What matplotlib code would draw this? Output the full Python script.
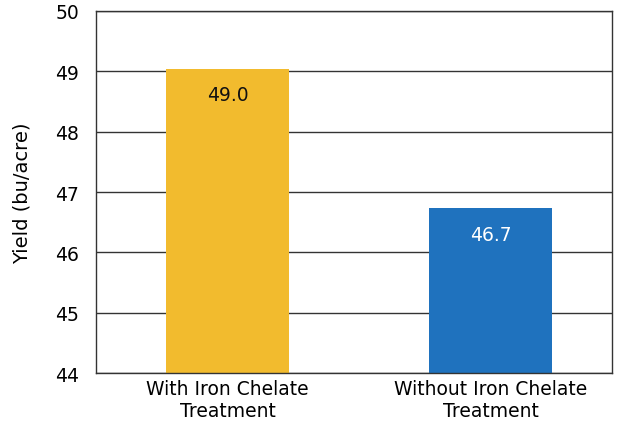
import matplotlib.pyplot as plt

categories = ['With Iron Chelate\nTreatment', 'Without Iron Chelate\nTreatment']
yields = [49.04, 46.73]
value_labels = ['49.0', '46.7']
bar_colors = ['#F2BB2E', '#1F72BE']
label_colors = ['#111111', 'white']

fig = plt.figure(figsize=(6.27, 4.27), dpi=100)
ax = fig.add_axes([0.153, 0.124, 0.823, 0.848])

x = [0.01, 1.03]
ax.set_axisbelow(True)
ax.grid(axis='y', color='#333333', linewidth=1)
ax.bar(x, yields, width=0.477, color=bar_colors, bottom=0)

for xi, v, lab, c in zip(x, yields, value_labels, label_colors):
    ax.text(xi, v - 0.43, lab, ha='center', va='center', fontsize=13.5, color=c)

ax.set_ylim(44, 50)
ax.set_xlim(-0.5, 1.5)
ax.set_yticks(range(44, 51))
ax.set_xticks(x)
ax.set_xticklabels(categories, fontsize=13.5, linespacing=1.2)
ax.tick_params(axis='y', labelsize=13.5, length=0, pad=12)
ax.tick_params(axis='x', length=0, pad=4)
ax.set_ylabel('Yield (bu/acre)', fontsize=14, labelpad=17)

for s in ax.spines.values():
    s.set_color('#333333')
    s.set_linewidth(1)

fig.savefig('out.png', dpi=100)
